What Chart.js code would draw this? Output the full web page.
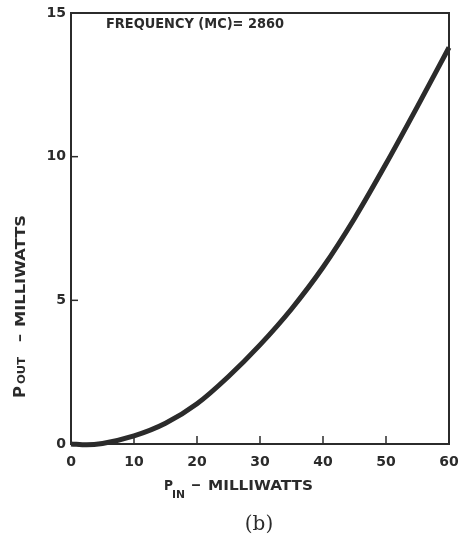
<!DOCTYPE html>
<html>
<head>
<meta charset="utf-8">
<script src="https://cdn.jsdelivr.net/npm/chart.js@4/dist/chart.umd.min.js"></script>
<style>
  html, body { margin: 0; padding: 0; background: #fff; }
  canvas { display: block; }
</style>
</head>
<body>
<canvas id="chart" width="466" height="535"></canvas>
<script>
// P_in (mW) vs P_out (mW)
const pinMw  = [0, 2.5, 5, 10, 15, 20, 25, 30, 35, 40, 45, 50, 55, 60];
const poutMw = [0, -0.03, 0.02, 0.28, 0.72, 1.4, 2.35, 3.45, 4.7, 6.15, 7.85, 9.75, 11.75, 13.8];
const xTicks = [0, 10, 20, 30, 40, 50, 60];
const yTicks = [0, 5, 10, 15];
const freqNote = 'FREQUENCY (MC)= 2860';
const caption = '(b)';

const INK = '#2b2b2b';
const FONT = '"DejaVu Sans", sans-serif';

// draw text stretched/squeezed to a given width
function fitText(ctx, txt, x, y, w) {
  const m = ctx.measureText(txt).width;
  ctx.save();
  ctx.translate(x, y);
  ctx.scale(w / m, 1);
  ctx.fillText(txt, 0, 0);
  ctx.restore();
}

const decor = {
  id: 'decor',
  afterDraw(chart) {
    const { ctx, chartArea: a, scales } = chart;
    ctx.save();
    ctx.strokeStyle = INK;
    ctx.fillStyle = INK;

    // frame
    ctx.lineWidth = 2;
    ctx.strokeRect(a.left, a.top, a.right - a.left, a.bottom - a.top);

    // inward ticks
    ctx.lineWidth = 1.5;
    xTicks.slice(1, -1).forEach(v => {
      const px = scales.x.getPixelForValue(v);
      ctx.beginPath(); ctx.moveTo(px, a.bottom); ctx.lineTo(px, a.bottom - 8); ctx.stroke();
    });
    yTicks.slice(1, -1).forEach(v => {
      const py = scales.y.getPixelForValue(v);
      ctx.beginPath(); ctx.moveTo(a.left, py); ctx.lineTo(a.left + 7, py); ctx.stroke();
    });

    // note inside the plot
    ctx.textBaseline = 'alphabetic';
    ctx.textAlign = 'left';
    ctx.font = 'bold 14px ' + FONT;
    fitText(ctx, freqNote, a.left + 35, 28, 178);

    // x axis title: P_IN - MILLIWATTS
    ctx.font = 'bold 14px ' + FONT;
    fitText(ctx, 'P', 164, 490, 9);
    ctx.font = 'bold 11px ' + FONT;
    fitText(ctx, 'IN', 172, 498, 13);
    ctx.font = 'bold 14px ' + FONT;
    fitText(ctx, '–', 191, 489, 10);
    fitText(ctx, 'MILLIWATTS', 208, 490, 105);

    // y axis title: P_OUT - MILLIWATTS (rotated)
    ctx.save();
    ctx.translate(25, 398);
    ctx.rotate(-Math.PI / 2);
    ctx.font = 'bold 15px ' + FONT;
    fitText(ctx, 'P', 0, 0, 12);
    ctx.font = 'bold 11px ' + FONT;
    fitText(ctx, 'OUT', 14, 0, 27);
    ctx.font = 'bold 14px ' + FONT;
    fitText(ctx, '–', 56, -1, 8);
    fitText(ctx, 'MILLIWATTS', 71, 0, 112);
    ctx.restore();

    // caption
    ctx.textAlign = 'center';
    ctx.font = '20px "DejaVu Serif", "Liberation Serif", serif';
    ctx.fillText(caption, 259, 530);
    ctx.restore();
  }
};

new Chart(document.getElementById('chart'), {
  type: 'line',
  data: {
    datasets: [{
      data: pinMw.map((x, i) => ({ x, y: poutMw[i] })),
      borderColor: INK,
      borderWidth: 5,
      pointRadius: 0,
      fill: false,
      cubicInterpolationMode: 'monotone',
      clip: 4
    }]
  },
  options: {
    responsive: false,
    devicePixelRatio: 1,
    animation: false,
    layout: { padding: { left: 0, top: 13, right: 17, bottom: 0 } },
    plugins: { legend: { display: false }, tooltip: { enabled: false } },
    scales: {
      x: {
        type: 'linear',
        min: 0, max: 60,
        afterBuildTicks: s => { s.ticks = xTicks.map(v => ({ value: v })); },
        afterFit: s => { s.height = 91; s.paddingLeft = 0; s.paddingRight = 0; },
        grid: { display: false, drawTicks: false },
        border: { display: false },
        ticks: { color: INK, font: { family: FONT, size: 14, weight: 'bold' }, padding: 10, maxRotation: 0 }
      },
      y: {
        min: 0, max: 15,
        afterBuildTicks: s => { s.ticks = yTicks.map(v => ({ value: v })); },
        afterFit: s => { s.width = 71; s.paddingTop = 0; s.paddingBottom = 0; },
        grid: { display: false, drawTicks: false },
        border: { display: false },
        ticks: { color: INK, font: { family: FONT, size: 14, weight: 'bold' }, padding: 5 }
      }
    }
  },
  plugins: [decor]
});
</script>
</body>
</html>
